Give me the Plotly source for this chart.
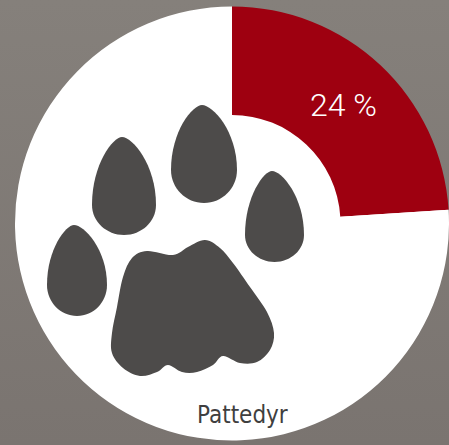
import urllib.parse
import plotly.graph_objects as go

categories = ["Pattedyr", "Øvrige"]
values = [24, 76]
slice_text = ["24 %", ""]
title_label = "Pattedyr"

W, H = 449, 445
CX, CY, R, INNER = 232, 223.5, 217, 108.5
BG, RED, INK = "#7f7874", "#9e0010", "#4d4b4a"


def px(x, y):
    return f"{x / W:.5f},{1 - y / H:.5f}"


def drop(tx, ty, left, right, bottom, belly):
    xc = (left + right) / 2
    p = f"M{px(tx, ty)}"
    p += f"C{px(tx + .3 * (right - tx), ty)} {px(right, belly - .6 * (belly - ty))} {px(right, belly)}"
    p += f"C{px(right, belly + .55 * (bottom - belly))} {px(xc + .55 * (right - xc), bottom)} {px(xc, bottom)}"
    p += f"C{px(xc - .55 * (xc - left), bottom)} {px(left, belly + .55 * (bottom - belly))} {px(left, belly)}"
    p += f"C{px(left, belly - .6 * (belly - ty))} {px(tx - .3 * (tx - left), ty)} {px(tx, ty)}Z"
    return p


def smooth(points):
    n = len(points)
    p = f"M{px(*points[0])}"
    for i in range(n):
        p0, p1, p2, p3 = points[i - 1], points[i], points[(i + 1) % n], points[(i + 2) % n]
        c1 = (p1[0] + (p2[0] - p0[0]) / 6, p1[1] + (p2[1] - p0[1]) / 6)
        c2 = (p2[0] - (p3[0] - p1[0]) / 6, p2[1] - (p3[1] - p1[1]) / 6)
        p += f"C{px(*c1)} {px(*c2)} {px(*p2)}"
    return p + "Z"


pad = [(205, 240), (220, 248), (233, 263), (250, 287), (267, 312), (274, 333), (270, 350), (257, 362),
       (240, 363), (223, 356), (213, 365), (197, 372), (182, 372), (168, 365), (157, 372),
       (140, 376), (123, 368), (112, 353), (112, 333), (117, 307), (123, 277), (132, 258),
       (147, 251), (173, 255), (188, 247)]
paw = [drop(202, 105, 171, 237, 203, 170), drop(122, 137, 92, 156, 235, 205),
       drop(272, 171, 245, 304, 262, 235), drop(74, 225, 47, 107, 316, 285), smooth(pad)]

shapes = [dict(type="circle", xref="paper", yref="paper", layer="below", line_width=0, fillcolor="white",
               x0=(CX - R + 1) / W, x1=(CX + R - 1) / W, y0=1 - (CY + R - 1) / H, y1=1 - (CY - R + 1) / H)]
shapes += [dict(type="path", xref="paper", yref="paper", path=p, fillcolor=INK, line_width=0, layer="above")
           for p in paw]

gradient = ("<svg xmlns='http://www.w3.org/2000/svg' width='449' height='445' preserveAspectRatio='none'>"
            "<defs><linearGradient id='g' x1='0' y1='0' x2='0' y2='1'>"
            "<stop offset='0' stop-color='#85807b'/><stop offset='1' stop-color='#7a7470'/>"
            "</linearGradient></defs><rect width='449' height='445' fill='url(#g)'/></svg>")

fig = go.Figure(go.Pie(
    labels=categories, values=values, text=slice_text, textinfo="text", hole=INNER / R,
    sort=False, direction="clockwise", rotation=0, showlegend=False,
    marker=dict(colors=[RED, "white"], line=dict(width=0)),
    textposition="inside", insidetextorientation="horizontal",
    textfont=dict(family="Roboto", size=32, color="white", weight=300),
    domain=dict(x=[(CX - R) / W, min(1, (CX + R) / W)], y=[1 - (CY + R) / H, 1 - (CY - R) / H]),
))
fig.update_layout(
    width=W, height=H, margin=dict(l=0, r=0, t=0, b=0), paper_bgcolor=BG, shapes=shapes,
    images=[dict(source="data:image/svg+xml," + urllib.parse.quote(gradient), xref="paper", yref="paper",
                 x=0, y=1, sizex=1, sizey=1, sizing="stretch", layer="below")],
    annotations=[dict(text=title_label, x=242 / W, y=1 - 415 / H, xref="paper", yref="paper", yanchor="middle",
                      showarrow=False, font=dict(family="DejaVu Sans Condensed", size=24, color="#3f3f3f"))],
)
fig.write_html("out.html", config=dict(displayModeBar=False),
               post_script="document.body.style.margin='0';document.documentElement.style.overflow='hidden';")
